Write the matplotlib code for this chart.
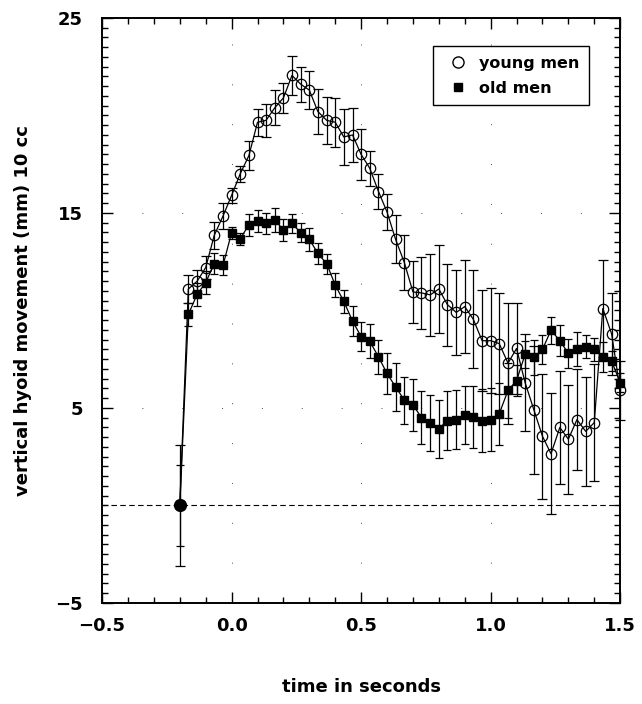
import matplotlib.pyplot as plt
from matplotlib.lines import Line2D

# time points (s)
t = [-0.200, -0.167, -0.133, -0.100, -0.067, -0.033, 0.000, 0.033, 0.067, 0.100,
     0.133, 0.167, 0.200, 0.233, 0.267, 0.300, 0.333, 0.367, 0.400, 0.433,
     0.467, 0.500, 0.533, 0.567, 0.600, 0.633, 0.667, 0.700, 0.733, 0.767,
     0.800, 0.833, 0.867, 0.900, 0.933, 0.967, 1.000, 1.033, 1.067, 1.100,
     1.133, 1.167, 1.200, 1.233, 1.267, 1.300, 1.333, 1.367, 1.400, 1.433,
     1.467, 1.500]

# young men: mean and error
young = [0.0, 11.1, 11.5, 12.2, 13.85, 14.85, 15.9, 17.0, 17.95, 19.65,
         19.75, 20.4, 20.9, 22.05, 21.6, 21.3, 20.2, 19.75, 19.65, 18.9,
         19.0, 18.0, 17.3, 16.1, 15.05, 13.65, 12.45, 10.95, 10.9, 10.8,
         11.1, 10.3, 9.9, 10.2, 9.55, 8.45, 8.45, 8.3, 7.3, 8.05,
         6.3, 4.9, 3.55, 2.65, 4.0, 3.4, 4.4, 3.8, 4.25, 10.1,
         8.8, 5.9]
young_err = [3.1, 0.73, 0.6, 0.6, 0.68, 0.67, 0.4, 0.43, 0.73, 0.7,
             0.83, 0.9, 0.77, 1.0, 0.9, 0.96, 1.15, 1.2, 1.27, 1.44,
             1.4, 1.3, 0.9, 0.92, 0.94, 1.24, 1.4, 1.6, 1.84, 2.1,
             2.25, 2.1, 2.17, 2.4, 2.5, 2.6, 2.7, 2.6, 3.1, 2.35,
             2.5, 3.3, 3.2, 3.1, 2.9, 2.8, 2.6, 2.8, 3.0, 2.5,
             2.1, 1.5]

# old men: mean and error
old = [0.0, 9.8, 10.83, 11.43, 12.4, 12.32, 13.99, 13.68, 14.39, 14.59,
       14.46, 14.63, 14.13, 14.46, 13.99, 13.65, 12.93, 12.4, 11.3, 10.47,
       9.45, 8.66, 8.43, 7.62, 6.77, 6.08, 5.4, 5.17, 4.5, 4.24,
       3.93, 4.35, 4.4, 4.65, 4.55, 4.35, 4.4, 4.7, 5.9, 6.4,
       7.75, 7.6, 8.0, 8.99, 8.45, 7.8, 8.0, 8.15, 8.0, 7.62,
       7.4, 6.3]
old_err = [2.1, 0.6, 0.6, 0.6, 0.55, 0.5, 0.3, 0.3, 0.55, 0.55,
           0.55, 0.6, 0.55, 0.5, 0.5, 0.6, 0.55, 0.51, 0.6, 0.6,
           0.77, 0.73, 0.86, 0.86, 1.07, 1.24, 1.2, 1.33, 1.37, 1.45,
           1.5, 1.5, 1.5, 1.5, 1.6, 1.6, 1.6, 1.6, 1.4, 0.8,
           0.7, 0.9, 0.75, 0.7, 0.8, 0.75, 0.87, 0.6, 0.6, 0.77,
           0.5, 0.5]

plt.rcParams['font.family'] = 'DejaVu Sans'
plt.rcParams['font.weight'] = 'bold'

fig = plt.figure(figsize=(6.42, 7.04), dpi=100)
ax = fig.add_axes([0.159, 0.1435, 0.807, 0.831])

# faint, very sparse dotted grid (as in the printed original)
for gx in [0.0, 0.5, 1.0]:
    ax.axvline(gx, color='0.3', lw=0.7, ls=(0, (1, 40)), zorder=0)
for gy in [5, 15]:
    ax.axhline(gy, color='0.3', lw=0.7, ls=(0, (1, 40)), zorder=0)

# zero line
ax.axhline(0, color='k', lw=0.8, ls=(0, (5, 3)), zorder=1)

eb_old = ax.errorbar(t, old, yerr=old_err, color='k', lw=0.9, elinewidth=0.9,
                     capsize=3, capthick=0.9, marker='s', ms=5.5, mfc='k', mec='k',
                     zorder=3)
eb_young = ax.errorbar(t, young, yerr=young_err, color='k', lw=0.9, elinewidth=0.9,
                       capsize=3.5, capthick=0.9, marker='o', ms=7.5, mfc='none',
                       mec='k', mew=0.9, zorder=4)
for eb in [eb_old, eb_young]:
    for art in eb.get_children():
        art.set_clip_on(False)
ax.plot(t[0], young[0], 'o', color='k', ms=8.5, zorder=5)

ax.set_xlim(-0.5, 1.5)
ax.set_ylim(-5, 25)
ax.set_xticks([-0.5, 0.0, 0.5, 1.0, 1.5])
ax.set_xticklabels(['−0.5', '0.0', '0.5', '1.0', '1.5'])
ax.set_xticks([x / 10 for x in range(-5, 16)], minor=True)
ax.set_yticks([-5, 5, 15, 25])
ax.set_yticks([y / 2 for y in range(-10, 51)], minor=True)

ax.tick_params(which='both', direction='in', top=True, right=True, width=1)
ax.tick_params(which='major', length=8)
ax.tick_params(which='minor', length=4)
ax.tick_params(axis='x', which='major', labelsize=13, pad=10)
ax.tick_params(axis='y', which='major', labelsize=13, pad=14)
for sp in ax.spines.values():
    sp.set_linewidth(1.4)

ax.set_xlabel('time in seconds', fontsize=13, fontweight='bold')
ax.xaxis.set_label_coords(0.5, -0.128)
ax.set_ylabel('vertical hyoid movement (mm) 10 cc', fontsize=13, fontweight='bold')
ax.yaxis.set_label_coords(-0.135, 0.5)

handles = [Line2D([], [], ls='none', marker='o', mfc='none', mec='k', ms=8, mew=1),
           Line2D([], [], ls='none', marker='s', mfc='k', mec='k', ms=6)]
leg = ax.legend(handles, ['young men', 'old men'], loc='upper right',
                bbox_to_anchor=(0.955, 0.965), fancybox=False, edgecolor='k',
                framealpha=1, prop={'weight': 'bold', 'size': 11.5},
                handletextpad=0.3, borderpad=0.6, labelspacing=0.6)
leg.get_frame().set_linewidth(1.0)

fig.savefig('out.png', dpi=100)
